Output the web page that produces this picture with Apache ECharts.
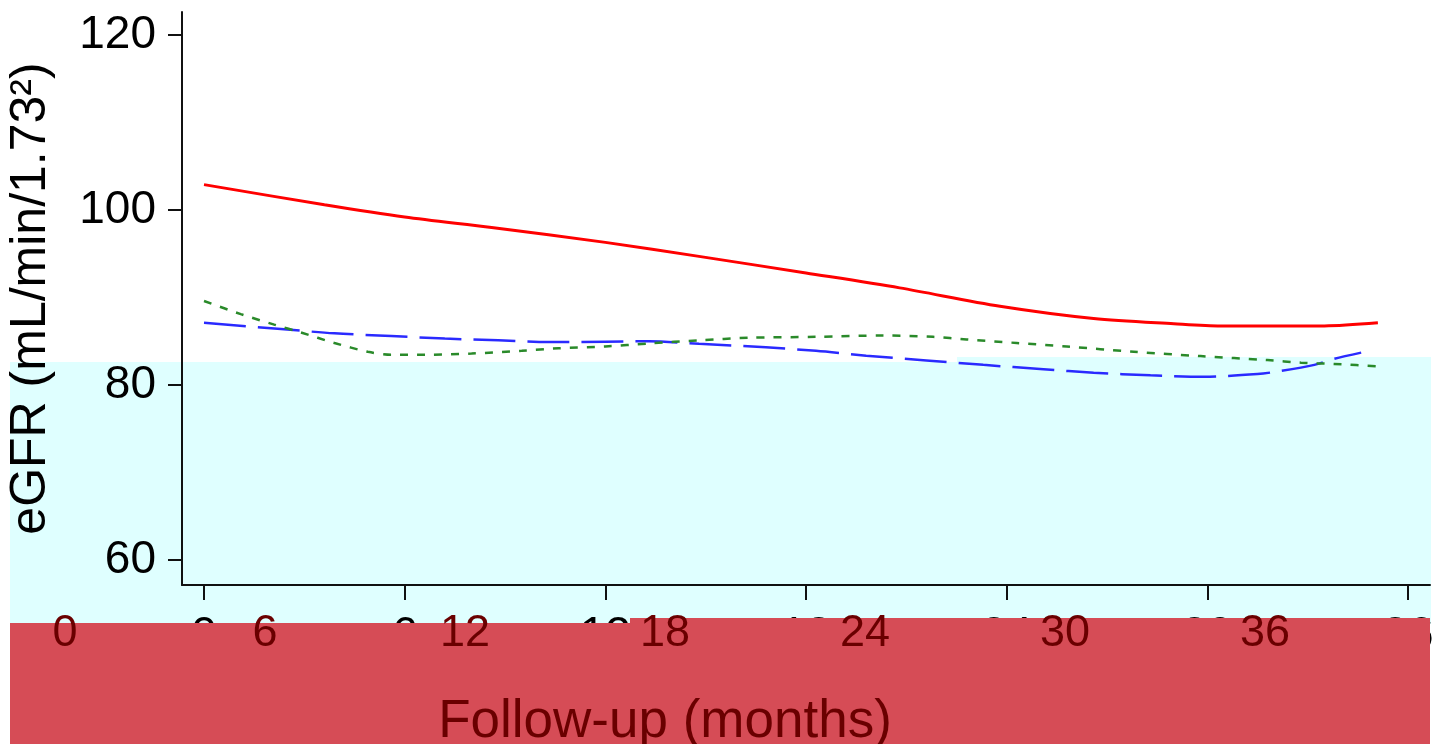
<!DOCTYPE html>
<html><head><meta charset="utf-8">
<script src="https://cdn.jsdelivr.net/npm/echarts@6/dist/echarts.min.js"></script>
<style>html,body{margin:0;padding:0;background:#fff}#c{width:1438px;height:744px}</style>
</head><body><div id="c"></div>
<script>
// ---- data ----
const xTickLabels = [0, 6, 12, 18, 24, 30, 36];
const yTickLabels = [60, 80, 100, 120];

const redMonths  = [0, 3.6, 6, 8.6, 12, 14.8, 18, 20.8, 23.8, 26.6, 29, 30.4, 33.5, 35.1];
const redValues  = [102.9, 100.6, 99.2, 98.0, 96.3, 94.7, 92.8, 91.1, 89.0, 87.6, 87.0, 86.75, 86.75, 87.1];

const blueMonths = [0, 2.3, 3.9, 5.6, 7.2, 8.8, 10.3, 12, 13.3, 14.8, 16.8, 18.3, 19.8, 21.6, 23.3, 25.1, 26.6, 28.3, 29.9, 31.5, 32.2, 33.2, 33.8, 34.6];
const blueValues = [87.1, 86.4, 85.9, 85.6, 85.3, 85.1, 84.9, 84.95, 85.0, 84.7, 84.3, 83.9, 83.35, 82.8, 82.3, 81.8, 81.4, 81.1, 80.95, 81.25, 81.6, 82.3, 83.0, 83.7];

const greenMonths = [0, 1.1, 2.1, 2.9, 3.9, 4.9, 5.6, 6.6, 8.0, 9.5, 10.6, 12, 13.3, 14.8, 16.3, 18.3, 20.3, 21.8, 22.8, 24.3, 25.8, 27.8, 29.8, 31.8, 32.8, 33.8, 35.3];
const greenValues = [89.6, 88.1, 86.9, 86.0, 84.8, 83.8, 83.45, 83.45, 83.6, 83.9, 84.2, 84.4, 84.75, 85.1, 85.4, 85.5, 85.65, 85.5, 85.2, 84.8, 84.4, 83.8, 83.3, 82.85, 82.55, 82.4, 82.1];

const yName = 'eGFR (mL/min/1.73²)';
const xName = 'Follow-up (months)';

// ---- chart ----
const zip = (a, b) => a.map((v, i) => [v, b[i]]);
const FONT = 'Liberation Sans, Arial, sans-serif';
const X_MIN = -0.658, X_MAX = 36.658, Y_MIN = 57.14, Y_MAX = 122.63;

const chart = echarts.init(document.getElementById('c'), null, {renderer: 'canvas'});
chart.setOption({
  animation: false,
  backgroundColor: '#ffffff',
  grid: [
    {left: 182, right: 8, top: 12, bottom: 159, outerBoundsMode: 'none', containLabel: false},
    {left: 43, right: 151, top: 12, bottom: 159, outerBoundsMode: 'none', containLabel: false}
  ],
  xAxis: [
    {
      type: 'value', gridIndex: 0, min: X_MIN, max: X_MAX, z: 0,
      axisLine: {show: true, onZero: false, lineStyle: {color: '#111', width: 2}},
      axisTick: {show: true, length: 15, customValues: xTickLabels, lineStyle: {color: '#111', width: 2}},
      axisLabel: {customValues: xTickLabels, fontSize: 46, color: '#000', margin: 28, fontFamily: FONT},
      splitLine: {show: false}
    },
    {
      type: 'value', gridIndex: 1, min: X_MIN, max: X_MAX, z: 100,
      axisLine: {show: false}, axisTick: {show: false}, splitLine: {show: false},
      axisLabel: {customValues: xTickLabels, fontSize: 45, color: '#6a0000', margin: 26, fontFamily: FONT},
      name: xName, nameLocation: 'middle', nameGap: 116,
      nameTextStyle: {fontSize: 53, lineHeight: 43, color: '#6a0000', fontFamily: FONT}
    }
  ],
  yAxis: [
    {
      type: 'value', gridIndex: 0, min: Y_MIN, max: Y_MAX, z: 0,
      axisLine: {show: true, onZero: false, lineStyle: {color: '#111', width: 2}},
      axisTick: {show: true, length: 14, customValues: yTickLabels, lineStyle: {color: '#111', width: 2}},
      axisLabel: {customValues: yTickLabels, fontSize: 46, color: '#000', margin: 26, fontFamily: FONT},
      splitLine: {show: false},
      name: yName, nameLocation: 'middle', nameGap: 126,
      nameTextStyle: {fontSize: 50, color: '#000', fontFamily: FONT}
    },
    {type: 'value', gridIndex: 1, min: Y_MIN, max: Y_MAX, show: false}
  ],
  graphic: [
    {type: 'rect', z: -10, silent: true, shape: {x: 10, y: 362, width: 947, height: 262}, style: {fill: '#dfffff'}},
    {type: 'rect', z: -10, silent: true, shape: {x: 957, y: 357, width: 474, height: 267}, style: {fill: '#dfffff'}},
    {type: 'rect', z: 50, silent: true, shape: {x: 10, y: 623, width: 621, height: 121}, style: {fill: '#d64c56'}},
    {type: 'rect', z: 50, silent: true, shape: {x: 630, y: 618, width: 800, height: 126}, style: {fill: '#d64c56'}}
  ],
  series: [
    {type: 'line', xAxisIndex: 0, yAxisIndex: 0, data: zip(redMonths, redValues), showSymbol: false, smooth: 0.3,
     lineStyle: {color: '#ff0000', width: 3, type: 'solid'}},
    {type: 'line', xAxisIndex: 0, yAxisIndex: 0, data: zip(blueMonths, blueValues), showSymbol: false, smooth: 0.3,
     lineStyle: {color: '#2a2aff', width: 2.5, type: [42, 12]}},
    {type: 'line', xAxisIndex: 0, yAxisIndex: 0, data: zip(greenMonths, greenValues), showSymbol: false, smooth: 0.3,
     lineStyle: {color: '#2a8a2a', width: 2.5, type: [8, 9]}}
  ]
});
</script></body></html>
